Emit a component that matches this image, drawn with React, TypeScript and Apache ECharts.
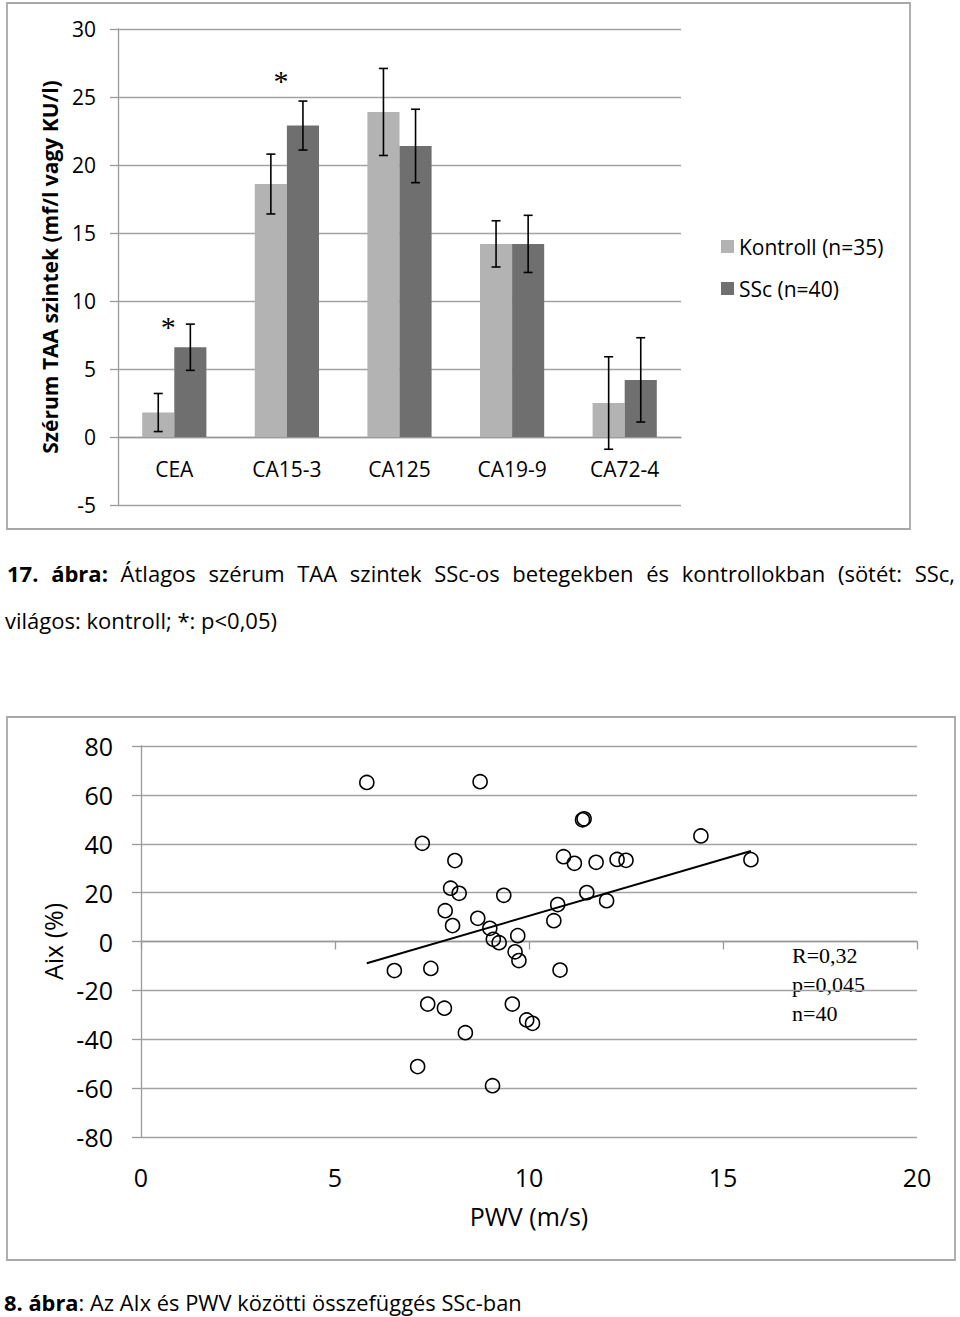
import React, { useEffect, useRef } from "react";
import * as echarts from "echarts";

// ---------- Figure 17: bar chart data ----------
const markers = ["CEA", "CA15-3", "CA125", "CA19-9", "CA72-4"];
const kontrollMean = [1.8, 18.6, 23.9, 14.2, 2.5];
const kontrollErr = [1.4, 2.2, 3.2, 1.7, 3.4];
const sscMean = [6.6, 22.9, 21.4, 14.2, 4.2];
const sscErr = [1.7, 1.8, 2.7, 2.1, 3.1];
const sigCategory = [0, 1];
const sigValue = [8.5, 26.6];
const barYMin = -5;
const barYMax = 30;
const barYStep = 5;
const kontrollName = "Kontroll (n=35)";
const sscName = "SSc (n=40)";

// ---------- Figure 8: scatter data ----------
const pwv = [
  5.82, 8.74, 7.25, 8.09, 7.98, 8.2, 7.84, 8.03, 8.68, 6.53,
  7.47, 11.38, 11.42, 14.43, 10.89, 11.17, 11.73, 12.27, 12.5, 15.72,
  9.35, 11.49, 12.0, 10.74, 10.64, 8.99, 9.08, 9.23, 9.71, 9.64,
  9.74, 10.8, 9.57, 7.39, 7.82, 8.36, 7.13, 9.94, 10.09, 9.06,
];
const aix = [
  65.1, 65.4, 40.2, 33.1, 21.8, 19.7, 12.6, 6.5, 9.5, -11.9,
  -11.0, 49.8, 50.2, 43.2, 34.7, 32.0, 32.4, 33.6, 33.2, 33.5,
  18.9, 20.0, 16.7, 15.1, 8.5, 5.4, 0.9, -0.5, 2.4, -4.2,
  -7.8, -11.7, -25.6, -25.6, -27.3, -37.3, -51.2, -32.1, -33.5, -59.0,
];
const trendPwv = [5.82, 15.72];
const trendAix = [-8.9, 37.0];
const statsLines = ["R=0,32", "p=0,045", "n=40"];

const caption17Bold = ["17.", "ábra:"];
const caption17Words = [
  "Átlagos", "szérum", "TAA", "szintek", "SSc-os", "betegekben", "és",
  "kontrollokban", "(sötét:", "SSc,",
];
const caption17Line2 = "világos: kontroll; *: p<0,05)";
const caption8Bold = "8. ábra";
const caption8Rest = ": Az AIx és PWV közötti összefüggés SSc-ban";

const FONT = "Open Sans";
const GRID_GRAY = "#a3a3a3";
const AXIS_GRAY = "#9a9a9a";

export default function App() {
  const ref = useRef<HTMLDivElement>(null);

  useEffect(() => {
    if (!ref.current) return;
    const chart = echarts.init(ref.current, null, { renderer: "svg" });

    const cv = document.createElement("canvas").getContext("2d")!;
    const measure = (t: string, size: number, weight = "normal") => {
      cv.font = `${weight} ${size}px "${FONT}"`;
      return cv.measureText(t).width;
    };

    const capSize = Math.min(22, (20 * 275) / measure(caption17Line2, 20));
    const cap8Size =
      (20 * 518) / (measure(caption8Bold, 20, "bold") + measure(caption8Rest, 20));

    const words = [...caption17Bold, ...caption17Words];
    const weights = words.map((_, i) => (i < caption17Bold.length ? "bold" : "normal"));
    const widths = words.map((w, i) => measure(w, capSize, weights[i]));
    const left = 7;
    const right = 955;
    const gap = (right - left - widths.reduce((a, b) => a + b, 0)) / (words.length - 1);
    let cx = left;
    const line1 = words.map((w, i) => {
      const el = {
        type: "text",
        x: cx,
        y: 573,
        style: {
          text: w,
          fontFamily: FONT,
          fontSize: capSize,
          fontWeight: weights[i],
          fill: "#000",
          verticalAlign: "middle",
        },
      };
      cx += widths[i] + gap;
      return el;
    });

    // bar grid geometry
    const barGridTop = 29;
    const barGridHeight = 476;
    const zeroOffset = (-barYMin / (barYMax - barYMin)) * barGridHeight;

    const barSideOffset = (api: any, side: number) => {
      const band = api.size([1, 0])[0];
      const bw = (band * (1 - 0.43)) / 2;
      return (side * bw) / 2;
    };

    const errRender = (side: number) => (params: any, api: any) => {
      const idx = api.value(0);
      const lo = api.coord([idx, api.value(1)]);
      const hi = api.coord([idx, api.value(2)]);
      const x = lo[0] + barSideOffset(api, side);
      const style = { stroke: "#000", lineWidth: 1.6 };
      const cap = 4.5;
      return {
        type: "group",
        children: [
          { type: "line", shape: { x1: x, y1: hi[1], x2: x, y2: lo[1] }, style },
          { type: "line", shape: { x1: x - cap, y1: hi[1], x2: x + cap, y2: hi[1] }, style },
          { type: "line", shape: { x1: x - cap, y1: lo[1], x2: x + cap, y2: lo[1] }, style },
        ],
      };
    };

    const option: any = {
      animation: false,
      textStyle: { fontFamily: FONT },
      grid: [
        { left: 118, top: barGridTop, width: 563, height: barGridHeight },
        { left: 141, top: 746, width: 776, height: 391 },
      ],
      legend: {
        data: [kontrollName, sscName],
        orient: "vertical",
        left: 716,
        top: 231,
        icon: "rect",
        itemWidth: 13,
        itemHeight: 13,
        itemGap: 21,
        textStyle: { fontSize: 21, color: "#000", fontFamily: FONT },
        selectedMode: false,
      },
      xAxis: [
        {
          gridIndex: 0,
          type: "category",
          data: markers,
          axisLine: { onZero: true, lineStyle: { color: AXIS_GRAY, width: 1.3 } },
          axisTick: { length: 7, lineStyle: { color: AXIS_GRAY, width: 1.3 } },
          axisLabel: { show: false },
        },
        {
          gridIndex: 0,
          type: "category",
          data: markers,
          position: "bottom",
          offset: -zeroOffset,
          axisLine: { show: false, onZero: false },
          axisTick: { show: false },
          axisLabel: { fontSize: 21, color: "#000", margin: 21, fontFamily: FONT },
        },
        {
          gridIndex: 1,
          type: "value",
          min: 0,
          max: 20,
          interval: 5,
          axisLine: { onZero: true, lineStyle: { color: AXIS_GRAY, width: 1.3 } },
          axisTick: { show: true, length: 8, lineStyle: { color: AXIS_GRAY, width: 1.3 } },
          axisLabel: { show: false },
          splitLine: { show: false },
        },
        {
          gridIndex: 1,
          type: "value",
          min: 0,
          max: 20,
          interval: 5,
          position: "bottom",
          axisLine: { show: false, onZero: false },
          axisTick: { show: false },
          axisLabel: { fontSize: 25, color: "#000", margin: 27, fontFamily: FONT },
          splitLine: { show: false },
          name: "PWV (m/s)",
          nameLocation: "middle",
          nameGap: 66,
          nameTextStyle: { fontSize: 25, color: "#000", fontFamily: FONT },
        },
      ],
      yAxis: [
        {
          gridIndex: 0,
          type: "value",
          min: barYMin,
          max: barYMax,
          interval: barYStep,
          axisLine: { show: true, lineStyle: { color: AXIS_GRAY, width: 1.3 } },
          axisTick: { show: true, length: 8, lineStyle: { color: AXIS_GRAY, width: 1.3 } },
          axisLabel: { fontSize: 21, color: "#000", margin: 22, fontFamily: FONT },
          splitLine: { lineStyle: { color: GRID_GRAY, width: 1.3 } },
          name: "Szérum TAA szintek (mf/l vagy KU/l)",
          nameLocation: "middle",
          nameGap: 58,
          nameTextStyle: { fontSize: 21, fontWeight: "bold", color: "#000", fontFamily: FONT },
        },
        {
          gridIndex: 1,
          type: "value",
          min: -80,
          max: 80,
          interval: 20,
          axisLine: { show: true, lineStyle: { color: AXIS_GRAY, width: 1.3 } },
          axisTick: { show: true, length: 9, lineStyle: { color: AXIS_GRAY, width: 1.3 } },
          axisLabel: { fontSize: 25, color: "#000", margin: 28, fontFamily: FONT },
          splitLine: { lineStyle: { color: GRID_GRAY, width: 1.3 } },
          name: "Aix (%)",
          nameLocation: "middle",
          nameGap: 75,
          nameTextStyle: { fontSize: 25, color: "#000", fontFamily: FONT },
        },
      ],
      series: [
        {
          name: kontrollName,
          type: "bar",
          xAxisIndex: 0,
          yAxisIndex: 0,
          data: kontrollMean,
          itemStyle: { color: "#b3b3b3" },
          barGap: "0%",
          barCategoryGap: "43%",
        },
        {
          name: sscName,
          type: "bar",
          xAxisIndex: 0,
          yAxisIndex: 0,
          data: sscMean,
          itemStyle: { color: "#6f6f6f" },
          barGap: "0%",
          barCategoryGap: "43%",
        },
        {
          name: "err-k",
          type: "custom",
          xAxisIndex: 0,
          yAxisIndex: 0,
          z: 5,
          renderItem: errRender(-1),
          data: kontrollMean.map((m, i) => [i, m - kontrollErr[i], m + kontrollErr[i]]),
        },
        {
          name: "err-s",
          type: "custom",
          xAxisIndex: 0,
          yAxisIndex: 0,
          z: 5,
          renderItem: errRender(1),
          data: sscMean.map((m, i) => [i, m - sscErr[i], m + sscErr[i]]),
        },
        {
          name: "sig",
          type: "custom",
          xAxisIndex: 0,
          yAxisIndex: 0,
          z: 5,
          renderItem: (params: any, api: any) => {
            const p = api.coord([api.value(0), api.value(1)]);
            return {
              type: "text",
              x: p[0] - 6,
              y: p[1] + 5,
              style: {
                text: "*",
                fontFamily: "Liberation Serif",
                fontSize: 30,
                fill: "#000",
                align: "center",
                verticalAlign: "middle",
              },
            };
          },
          data: sigCategory.map((c, i) => [c, sigValue[i]]),
        },
        {
          name: "points",
          type: "scatter",
          xAxisIndex: 2,
          yAxisIndex: 1,
          symbol: "circle",
          symbolSize: 14,
          itemStyle: { color: "rgba(0,0,0,0)", borderColor: "#000", borderWidth: 1.6, opacity: 1 },
          data: pwv.map((x, i) => [x, aix[i]]),
          z: 4,
        },
        {
          name: "trend",
          type: "line",
          xAxisIndex: 2,
          yAxisIndex: 1,
          symbol: "none",
          lineStyle: { color: "#000", width: 2 },
          data: trendPwv.map((x, i) => [x, trendAix[i]]),
          z: 3,
        },
      ],
      graphic: [
        {
          type: "rect",
          shape: { x: 7, y: 3, width: 903, height: 526 },
          style: { fill: "none", stroke: "#a8a8a8", lineWidth: 1.8 },
        },
        {
          type: "rect",
          shape: { x: 7, y: 717, width: 948, height: 543 },
          style: { fill: "none", stroke: "#a8a8a8", lineWidth: 1.8 },
        },
        ...line1,
        {
          type: "text",
          x: 5,
          y: 620,
          style: {
            text: caption17Line2,
            fontFamily: FONT,
            fontSize: capSize,
            fill: "#000",
            verticalAlign: "middle",
          },
        },
        {
          type: "text",
          x: 4,
          y: 1302,
          style: {
            text: `{b|${caption8Bold}}${caption8Rest}`,
            fontFamily: FONT,
            fontSize: cap8Size,
            fill: "#000",
            verticalAlign: "middle",
            rich: { b: { fontWeight: "bold", fontFamily: FONT, fontSize: cap8Size, fill: "#000" } },
          },
        },
        ...statsLines.map((t, i) => ({
          type: "text",
          x: 792,
          y: 955 + i * 29,
          style: {
            text: t,
            fontFamily: "Liberation Serif",
            fontSize: 22,
            fill: "#000",
            verticalAlign: "middle",
          },
        })),
      ],
    };

    chart.setOption(option);
    return () => chart.dispose();
  }, []);

  return (
    <div
      ref={ref}
      style={{ position: "absolute", left: 0, top: 0, width: 960, height: 1317, background: "#fff" }}
    />
  );
}
